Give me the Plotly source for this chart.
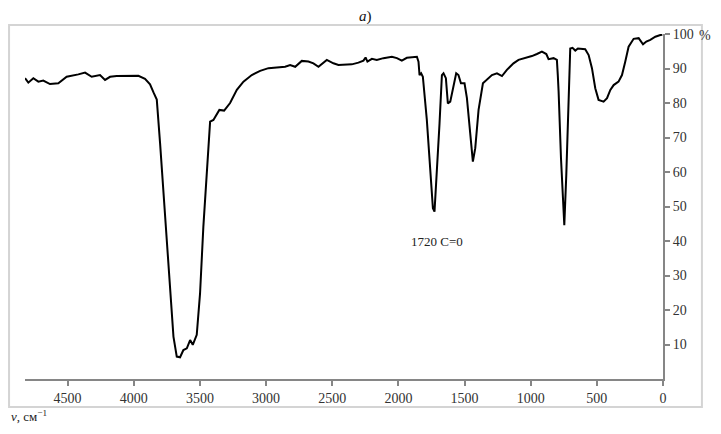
import plotly.graph_objects as go

# IR spectrum: wavenumber (cm-1) and transmittance (%)
wavenumber = [4822, 4797, 4759, 4721, 4684, 4633, 4570, 4507, 4419, 4368, 4318, 4255, 4217, 4179,
              4129, 4053, 3965, 3915, 3877, 3850, 3826, 3801, 3776, 3750, 3725, 3700, 3675, 3650,
              3625, 3599, 3574, 3554, 3524, 3499, 3474, 3448, 3423, 3398, 3353, 3317, 3272, 3221,
              3171, 3108, 3045, 2982, 2919, 2856, 2818, 2780, 2730, 2680, 2642, 2604, 2541, 2491,
              2453, 2402, 2352, 2302, 2264, 2248, 2234, 2200, 2163, 2113, 2049, 2011, 1974, 1936,
              1886, 1860, 1848, 1840, 1828, 1815, 1785, 1760, 1739, 1727, 1709, 1689, 1671, 1659,
              1641, 1626, 1608, 1583, 1563, 1546, 1527, 1500, 1482, 1457, 1437, 1419, 1394, 1361,
              1331, 1293, 1255, 1217, 1180, 1130, 1092, 1041, 991, 953, 915, 882, 865, 827, 802,
              795, 789, 771, 751, 746, 731, 714, 701, 684, 663, 643, 612, 588, 562, 537, 512, 487,
              449, 423, 398, 373, 336, 310, 285, 260, 222, 184, 151, 126, 96, 58, 20, 5]
transmittance = [87.2, 85.9, 87.2, 86.2, 86.5, 85.5, 85.7, 87.6, 88.3, 88.8, 87.6, 88.1, 86.7, 87.6,
                 87.8, 87.9, 87.9, 87.0, 85.4, 83.0, 81.0, 68.3, 53.8, 39.3, 24.8, 12.3, 6.5, 6.3,
                 8.4, 8.9, 11.3, 9.9, 12.8, 24.8, 44.1, 60.6, 74.6, 75.1, 78.0, 77.8, 80.0, 83.8,
                 86.2, 88.1, 89.3, 90.1, 90.3, 90.5, 91.0, 90.5, 92.2, 92.0, 91.5, 90.5, 92.5, 91.5,
                 91.0, 91.2, 91.2, 91.7, 92.3, 93.2, 92.0, 92.8, 92.5, 93.0, 93.4, 93.0, 92.3, 93.1,
                 93.4, 93.4, 92.0, 88.1, 88.6, 87.6, 75.1, 61.5, 49.5, 48.5, 59.6, 74.1, 88.1, 88.6,
                 87.2, 79.9, 80.4, 85.2, 88.6, 88.1, 85.7, 85.7, 81.4, 71.2, 63.0, 66.9, 78.0, 85.7,
                 86.7, 88.1, 88.6, 87.8, 89.6, 91.5, 92.5, 93.0, 93.6, 94.2, 94.9, 94.2, 92.7, 93.0, 92.5,
                 88.0, 83.3, 64.0, 47.5, 44.6, 59.1, 83.3, 95.8, 96.0, 95.2, 95.8, 95.6, 95.6, 93.9, 90.1, 84.3, 80.9,
                 80.4, 81.4, 83.8, 85.2, 86.2, 88.1, 92.0, 96.3, 98.6, 98.8, 97.0, 97.8, 98.3, 99.2, 99.7, 99.8]

x_ticks = [4500, 4000, 3500, 3000, 2500, 2000, 1500, 1000, 500, 0]
y_ticks = [10, 20, 30, 40, 50, 60, 70, 80, 90, 100]

peak_label = "1720 C=0"
peak_pos = (1707, 40)

axis_color = "#868686"
serif = "Liberation Serif"

fig = go.Figure()
fig.add_trace(go.Scatter(
    x=wavenumber, y=transmittance, mode="lines",
    line=dict(color="black", width=2), showlegend=False, hoverinfo="skip"
))

fig.update_xaxes(
    range=[4822, 0], tickvals=x_ticks, showgrid=False, zeroline=False,
    showline=True, linecolor=axis_color, linewidth=2,
    ticks="outside", ticklen=5, tickcolor=axis_color, tickwidth=1.5,
    tickfont=dict(family=serif, size=14, color="#333333")
)
fig.update_yaxes(
    range=[0, 100], side="right", tickvals=y_ticks,
    showgrid=False, zeroline=False,
    showline=True, linecolor=axis_color, linewidth=2,
    ticks="outside", ticklen=5, tickcolor=axis_color, tickwidth=1.5,
    tickfont=dict(family=serif, size=14, color="#333333")
)

# light frame around the chart area
fig.add_shape(type="rect", xref="paper", yref="paper",
              x0=-0.025, x1=1.061, y0=-0.081, y1=1.026,
              line=dict(color="#d4d4d4", width=2), layer="below")

fig.add_annotation(x=peak_pos[0], y=peak_pos[1], text=peak_label, showarrow=False,
                   font=dict(family=serif, size=13, color="#222222"))
fig.add_annotation(xref="paper", yref="paper", x=0.533, y=1.052, xanchor="center", yanchor="middle",
                   text="<i>a</i>)", showarrow=False,
                   font=dict(family=serif, size=15, color="#111111"))
fig.add_annotation(xref="paper", yref="paper", x=1.066, y=0.997, xanchor="center", yanchor="middle",
                   text="%", showarrow=False, font=dict(family=serif, size=14, color="#333333"))
fig.add_annotation(xref="paper", yref="paper", x=-0.025, y=-0.108, xanchor="left", yanchor="middle",
                   text="<i>ν</i>, см<sup>−1</sup>", showarrow=False,
                   font=dict(family=serif, size=13, color="#222222"))

# the page body adds an 8px offset; figure is sized to fit inside the window
fig.update_layout(
    width=705, height=418,
    margin=dict(l=17, r=50, t=26, b=47),
    plot_bgcolor="white", paper_bgcolor="white"
)

fig.write_html("out.html")
